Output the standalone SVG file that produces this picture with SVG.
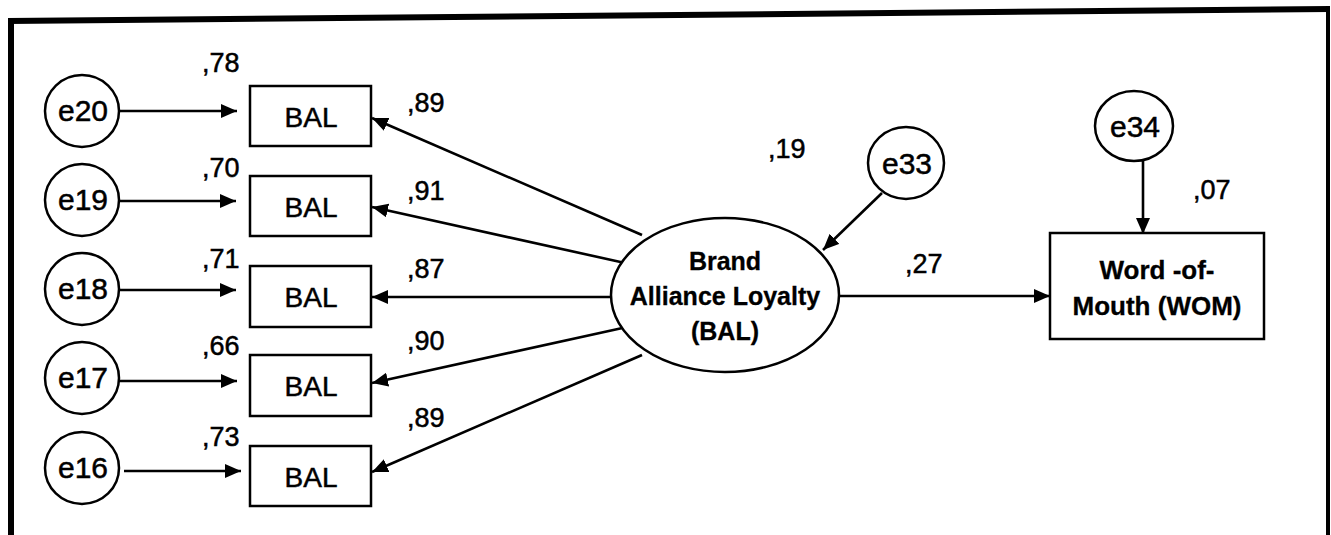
<svg xmlns="http://www.w3.org/2000/svg" width="1331" height="535" viewBox="0 0 1331 535">
  <style>
    .frame { stroke: #000; fill: none; }
    .node { fill: #fff; stroke: #000; stroke-width: 2.5; }
    .edge { stroke: #000; stroke-width: 2.6; fill: none; marker-end: url(#head); }
    .lbl { font-family: "Liberation Sans", Arial, sans-serif; fill: #000; stroke: #000; stroke-width: 0.5; }
    .err { font-size: 30px; text-anchor: middle; }
    .obs { font-size: 28px; text-anchor: middle; }
    .num { font-size: 27px; }
    .lat { font-size: 25px; font-weight: bold; text-anchor: middle; stroke-width: 0.3; }
    .wom { font-size: 26px; font-weight: bold; text-anchor: middle; stroke-width: 0.3; }
  </style>
  <defs>
    <marker id="head" markerUnits="userSpaceOnUse" markerWidth="18" markerHeight="16" refX="16" refY="7" orient="auto">
      <path d="M0,0 L16,7 L0,14 z" fill="#000"/>
    </marker>
  </defs>
  <rect width="1331" height="535" fill="#fff"/>

  <!-- outer frame, open at the bottom -->
  <g id="frame" class="frame">
    <line x1="11" y1="535" x2="11" y2="19" stroke-width="6"/>
    <line x1="8" y1="21" x2="1330" y2="9" stroke-width="6"/>
    <line x1="1328" y1="9" x2="1328" y2="535" stroke-width="4"/>
  </g>

  <!-- connectors -->
  <g id="connectors">
    <line class="edge" x1="119" y1="111" x2="237" y2="111"/>
    <line class="edge" x1="120" y1="201" x2="236" y2="201"/>
    <line class="edge" x1="119" y1="290" x2="236" y2="290"/>
    <line class="edge" x1="119" y1="381" x2="237" y2="381"/>
    <line class="edge" x1="124" y1="471" x2="241" y2="471"/>

    <line class="edge" x1="642" y1="235" x2="372" y2="118"/>
    <line class="edge" x1="625" y1="263" x2="372" y2="207"/>
    <line class="edge" x1="611" y1="297" x2="372" y2="297"/>
    <line class="edge" x1="627" y1="327" x2="372" y2="383"/>
    <line class="edge" x1="642" y1="355" x2="372" y2="472"/>

    <line class="edge" x1="882" y1="193" x2="823" y2="250"/>
    <line class="edge" x1="839" y1="296" x2="1050" y2="296"/>
    <line class="edge" x1="1143" y1="161" x2="1143" y2="234"/>
  </g>

  <!-- error terms of the indicators -->
  <g id="e20"><ellipse class="node" cx="82" cy="111" rx="37" ry="36"/><text class="lbl err" x="83" y="121">e20</text></g>
  <g id="e19"><ellipse class="node" cx="82" cy="200" rx="37" ry="36"/><text class="lbl err" x="83" y="210">e19</text></g>
  <g id="e18"><ellipse class="node" cx="82" cy="289" rx="37" ry="36"/><text class="lbl err" x="83" y="299">e18</text></g>
  <g id="e17"><ellipse class="node" cx="82" cy="378" rx="37" ry="36"/><text class="lbl err" x="83" y="388">e17</text></g>
  <g id="e16"><ellipse class="node" cx="82" cy="468" rx="37" ry="36"/><text class="lbl err" x="83" y="478">e16</text></g>

  <!-- observed indicators -->
  <g id="bal1"><rect class="node" x="250" y="86" width="121" height="60"/><text class="lbl obs" x="311" y="127">BAL</text></g>
  <g id="bal2"><rect class="node" x="250" y="176" width="121" height="60"/><text class="lbl obs" x="311" y="217">BAL</text></g>
  <g id="bal3"><rect class="node" x="250" y="266" width="121" height="61"/><text class="lbl obs" x="311" y="307">BAL</text></g>
  <g id="bal4"><rect class="node" x="250" y="355" width="121" height="61"/><text class="lbl obs" x="311" y="396">BAL</text></g>
  <g id="bal5"><rect class="node" x="250" y="446" width="121" height="60"/><text class="lbl obs" x="311" y="487">BAL</text></g>

  <!-- latent construct -->
  <g id="bal-latent">
    <ellipse class="node" cx="725" cy="295" rx="114" ry="77"/>
    <text class="lbl lat" x="725" y="270">Brand</text>
    <text class="lbl lat" x="725" y="305">Alliance Loyalty</text>
    <text class="lbl lat" x="725" y="340">(BAL)</text>
  </g>

  <!-- disturbances -->
  <g id="e33"><ellipse class="node" cx="906" cy="163" rx="38" ry="36"/><text class="lbl err" x="907" y="174">e33</text></g>
  <g id="e34"><ellipse class="node" cx="1134" cy="126" rx="39" ry="35"/><text class="lbl err" x="1135" y="137">e34</text></g>

  <!-- outcome -->
  <g id="wom">
    <rect class="node" x="1050" y="233" width="214" height="106"/>
    <text class="lbl wom" x="1157" y="279">Word -of-</text>
    <text class="lbl wom" x="1157" y="315">Mouth (WOM)</text>
  </g>

  <!-- estimates -->
  <g id="estimates" class="lbl num">
    <text x="202" y="72">,78</text>
    <text x="202" y="177">,70</text>
    <text x="202" y="268">,71</text>
    <text x="202" y="355">,66</text>
    <text x="202" y="446">,73</text>
    <text x="407" y="112">,89</text>
    <text x="407" y="200">,91</text>
    <text x="407" y="278">,87</text>
    <text x="407" y="350">,90</text>
    <text x="407" y="427">,89</text>
    <text x="768" y="158">,19</text>
    <text x="905" y="273">,27</text>
    <text x="1193" y="199">,07</text>
  </g>
</svg>
